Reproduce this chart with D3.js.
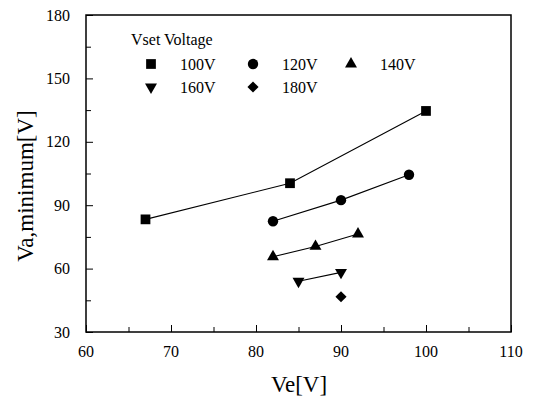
<!DOCTYPE html>
<html><head><meta charset="utf-8">
<script src="https://cdn.jsdelivr.net/npm/d3@7"></script>
<style>body{margin:0;background:#fff}svg{display:block}</style>
</head><body>
<script>
const xTicks = [60,70,80,90,100,110];
const yTicks = [30,60,90,120,150,180];
const seriesNames = ["100V","120V","140V","160V","180V"];
const s100 = [[67,83.3],[84,100.4],[100,134.6]];
const s120 = [[82,82.4],[90,92.4],[98,104.4]];
const s140 = [[82,65.6],[87,70.5],[92,76.4]];
const s160 = [[85,54.0],[90,58.2]];
const s180 = [[90,46.7]];
const seriesData = [s100,s120,s140,s160,s180];
const symbols = ["square","circle","tup","tdown","diamond"];

const FONT = "Liberation Serif, DejaVu Serif";
const W=539,H=403;
const m={l:86,r:28,t:15,b:71};
const svg=d3.select("body").append("svg").attr("width",W).attr("height",H);
const x=d3.scaleLinear().domain([60,110]).range([m.l,W-m.r]);
const y=d3.scaleLinear().domain([30,180]).range([H-m.b,m.t]);

function txt(xp,yp,s,size,anchor){
  return svg.append("text").attr("x",xp).attr("y",yp).style("font-family",FONT).attr("font-size",size)
    .attr("text-anchor",anchor||"start").attr("fill","#000").text(s);
}

// frame
svg.append("rect").attr("x",x(60)).attr("y",y(180)).attr("width",x(110)-x(60)).attr("height",y(30)-y(180))
  .attr("fill","none").attr("stroke","#000").attr("stroke-width",1.5);

// x axis
const gx=svg.append("g").attr("transform",`translate(0,${y(30)})`);
gx.call(d3.axisBottom(x).tickValues(d3.range(60,111,5)).tickSize(-5).tickFormat(""));
gx.select(".domain").remove();
gx.selectAll("line").attr("stroke","#000").attr("stroke-width",1);
gx.selectAll(".tick").filter(d=>d%10===0).select("line").attr("y2",-7);
xTicks.forEach(v=>txt(x(v),357,v,16,"middle"));
// y axis
const gy=svg.append("g").attr("transform",`translate(${x(60)},0)`);
gy.call(d3.axisLeft(y).tickValues(d3.range(30,181,15)).tickSize(-5).tickFormat(""));
gy.select(".domain").remove();
gy.selectAll("line").attr("stroke","#000").attr("stroke-width",1);
gy.selectAll(".tick").filter(d=>d%30===0).select("line").attr("x2",7);
yTicks.forEach(v=>txt(70,y(v)+5.5,v,16,"end"));

txt(299,392,"Ve[V]",23,"middle");
svg.append("text").attr("transform",`translate(33,186) rotate(-90)`).attr("text-anchor","middle")
  .style("font-family",FONT).attr("font-size",23).attr("fill","#000").text("Va,minimum[V]");

function marker(g,i,cx,cy){
  const t=symbols[i];
  let p;
  if(t==="square") p=g.append("path").attr("d",d3.symbol(d3.symbolSquare,95)()).attr("transform",`translate(${cx},${cy})`);
  else if(t==="circle") p=g.append("path").attr("d",d3.symbol(d3.symbolCircle,85)()).attr("transform",`translate(${cx},${cy})`);
  else if(t==="tup") p=g.append("path").attr("d",d3.symbol(d3.symbolTriangle,62)()).attr("transform",`translate(${cx},${cy})`);
  else if(t==="tdown") p=g.append("path").attr("d",d3.symbol(d3.symbolTriangle,62)()).attr("transform",`translate(${cx},${cy}) rotate(180)`);
  else p=g.append("path").attr("d",d3.symbol(d3.symbolSquare,62)()).attr("transform",`translate(${cx},${cy}) rotate(45)`);
  p.attr("fill","#000");
}
const line=d3.line().x(d=>x(d[0])).y(d=>y(d[1]));
seriesData.forEach((s,i)=>{
  const g=svg.append("g");
  if(s.length>1) g.append("path").attr("d",line(s)).attr("fill","none").attr("stroke","#000").attr("stroke-width",1.1);
  s.forEach(d=>marker(g,i,x(d[0]),y(d[1])));
});

// legend
txt(131,45,"Vset Voltage",16);
const legPos=[[151,64],[253,64],[351,64],[151,87],[253,87]];
seriesNames.forEach((n,i)=>{
  const g=svg.append("g");
  marker(g,i,legPos[i][0],legPos[i][1]);
  txt(legPos[i][0]+29,legPos[i][1]+6,n,16);
});
</script>
</body></html>
